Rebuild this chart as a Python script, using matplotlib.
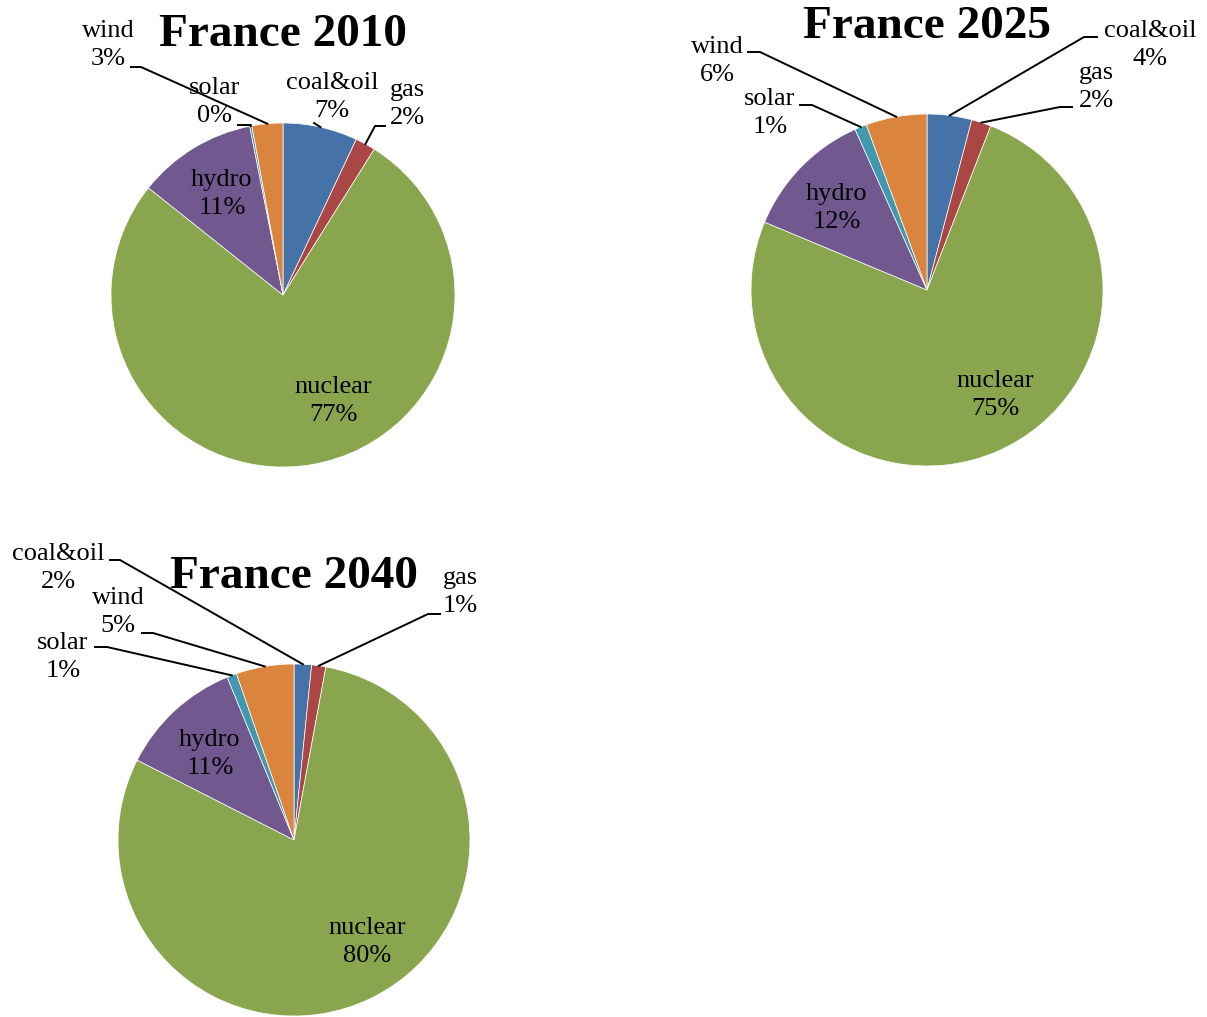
import numpy as np
import matplotlib.pyplot as plt

W, H = 1207, 1017

categories = ['coal&oil', 'gas', 'nuclear', 'hydro', 'solar', 'wind']
colors = ['#4572A7', '#AA4643', '#89A54E', '#71588F', '#4198AF', '#DB843D']

share_2010 = [7.0, 1.9, 76.8, 11.2, 0.2, 2.9]
share_2025 = [4.1, 1.8, 75.4, 12.0, 1.1, 5.6]
share_2040 = [1.6, 1.3, 79.6, 11.3, 0.9, 5.3]

# layout in pixels (y measured from top): pie centre, radius, title, labels, leader lines
pies = [
    dict(title='France 2010', vals=share_2010, c=(283, 295), r=172, tpos=(283, 35),
         labels={'coal&oil': (332, 97), 'gas': (407, 104), 'nuclear': (333, 401),
                 'hydro': (222, 194), 'solar': (215, 102), 'wind': (108, 45)},
         leaders={'coal&oil': [(314, 123)], 'gas': [(385, 126), (375, 126)],
                  'solar': [(238, 125), (251, 125)], 'wind': [(131, 67), (141, 67)]}),
    dict(title='France 2025', vals=share_2025, c=(927, 290), r=176, tpos=(927, 27),
         labels={'coal&oil': (1150, 45), 'gas': (1096, 87), 'nuclear': (995, 395),
                 'hydro': (837, 208), 'solar': (770, 113), 'wind': (717, 61)},
         leaders={'coal&oil': [(1097, 37), (1084, 37)], 'gas': [(1072, 107), (1060, 107)],
                  'solar': [(800, 105), (812, 105)], 'wind': [(748, 52), (760, 52)]}),
    dict(title='France 2040', vals=share_2040, c=(294, 840), r=176, tpos=(294, 577),
         labels={'coal&oil': (58, 568), 'gas': (460, 592), 'nuclear': (367, 942),
                 'hydro': (210, 754), 'solar': (63, 657), 'wind': (118, 612)},
         leaders={'coal&oil': [(110, 560), (120, 560)], 'gas': [(440, 614), (428, 614)],
                  'solar': [(95, 647), (107, 647)], 'wind': [(142, 633), (153, 633)]}),
]

fig = plt.figure(figsize=(W / 100, H / 100), dpi=100)
ax = fig.add_axes([0, 0, 1, 1])

for p in pies:
    cx, cy = p['c'][0], H - p['c'][1]
    r = p['r']
    wedges, _ = ax.pie(p['vals'], colors=colors, startangle=90, counterclock=False,
                       center=(cx, cy), radius=r,
                       wedgeprops=dict(edgecolor='white', linewidth=0.5))
    ax.text(p['tpos'][0], H - p['tpos'][1], p['title'], ha='center', va='center',
            fontsize=34, fontweight='bold', family='Liberation Serif')
    for cat, v, w in zip(categories, p['vals'], wedges):
        lx, ly = p['labels'][cat]
        ax.text(lx, H - ly, f"{cat}\n{round(v)}%", ha='center', va='center',
                fontsize=19, family='Liberation Serif', linespacing=1.35)
        if cat in p['leaders']:
            ang = np.deg2rad((w.theta1 + w.theta2) / 2)
            pts = [(x, H - y) for x, y in p['leaders'][cat]]
            pts.append((cx + r * np.cos(ang), cy + r * np.sin(ang)))
            xs, ys = zip(*pts)
            ax.plot(xs, ys, color='black', linewidth=1.4)

ax.set_xlim(0, W)
ax.set_ylim(0, H)
ax.set_aspect('equal')
ax.axis('off')

fig.savefig('out.png', dpi=100)
